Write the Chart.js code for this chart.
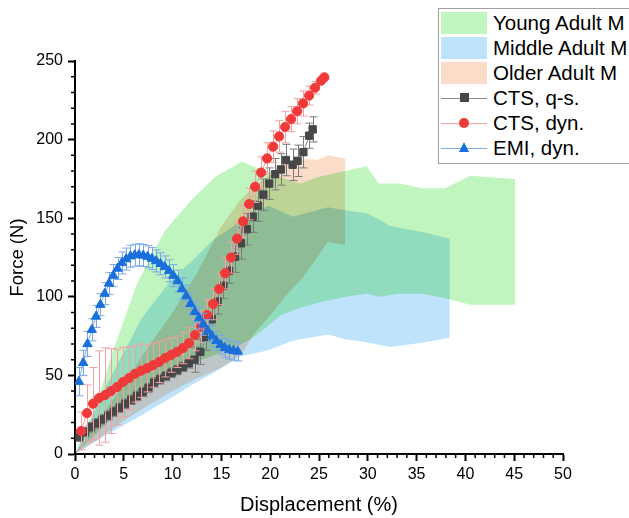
<!DOCTYPE html>
<html>
<head>
<meta charset="utf-8">
<script src="https://cdn.jsdelivr.net/npm/chart.js@4.4.1/dist/chart.umd.min.js"></script>
<style>
  body { margin: 0; background: #fff; overflow: hidden; font-family: "Liberation Sans", Arial, sans-serif; }
  #wrap { position: relative; width: 629px; height: 518px; overflow: hidden; }
  #legend { position: absolute; left: 438px; top: 8px; width: 200px; height: 154px; border: 1.5px solid #a0a0a0; background: #fff; }
  .sw { position: absolute; left: 2px; width: 46px; height: 22px; }
  .lbl { position: absolute; left: 54px; height: 25px; line-height: 25px; font-size: 20.5px; color: #000; white-space: nowrap; }
  .ln { position: absolute; left: 2px; width: 46px; height: 0; border-top: 1px solid; }
  .mk { position: absolute; }
</style>
</head>
<body>
<div id="wrap">
  <canvas id="force_chart" width="629" height="518"></canvas>
  <div id="legend">
    <div class="sw" style="top:2.5px;background:#c1f5c0"></div>
    <div class="lbl" style="top:1px">Young Adult M</div>
    <div class="sw" style="top:27.5px;background:#c0e3fc"></div>
    <div class="lbl" style="top:26px">Middle Adult M</div>
    <div class="sw" style="top:52.5px;background:#fadcc8"></div>
    <div class="lbl" style="top:51px">Older Adult M</div>

    <div class="ln" style="top:88.5px;border-color:#8a8a8a"></div>
    <div class="mk" style="left:20.5px;top:84px;width:9px;height:9px;background:#474747"></div>
    <div class="lbl" style="top:76px">CTS, q-s.</div>

    <div class="ln" style="top:113.5px;border-color:#f4a0a0"></div>
    <div class="mk" style="left:20px;top:109px;width:10px;height:10px;border-radius:50%;background:#f03a3a"></div>
    <div class="lbl" style="top:101px">CTS, dyn.</div>

    <div class="ln" style="top:138.5px;border-color:#80b0f0"></div>
    <div class="mk" style="left:19.5px;top:133px;width:0;height:0;border-left:5.5px solid transparent;border-right:5.5px solid transparent;border-bottom:10px solid #1a6fdc"></div>
    <div class="lbl" style="top:126px">EMI, dyn.</div>
  </div>
</div>
<script>
const FONT = '"Liberation Sans", Arial, sans-serif';

// corridors (shaded bands): displacement %, upper and lower force N
const youngX  = [0, 2.0, 3.9, 6.4, 9.2, 12.0, 14.3, 17.1, 18.2, 19.5, 21.0, 23.1, 24.8, 27.7, 29.9, 31.1, 33.3, 35.6, 37.9, 40.5, 45.1];
const youngHi = [0, 28, 66, 109, 142, 162, 176, 186, 183, 180, 176, 172, 176, 180, 183, 172, 172, 169, 169, 177, 175];
const youngLo = [0, 12, 24, 39, 51, 58, 63, 70, 74, 80, 88, 93, 96, 100, 102, 100, 102, 102, 99, 95, 95];

const middleX  = [0, 2.9, 6.9, 9.9, 12.0, 14.3, 17.0, 19.8, 22.3, 25.9, 27.7, 30.0, 32.3, 35.7, 38.4];
const middleHi = [0, 40, 87, 111, 123, 137, 148, 158, 151, 157, 155, 153, 145, 141, 137];
const middleLo = [0, 11, 25, 36, 44, 52, 62, 66, 72, 76, 73, 71, 68, 71, 74];

const olderX  = [0, 2.5, 5, 7.5, 10, 12.5, 15, 17, 18.4, 20, 21.5, 22.7, 23.3, 24.8, 25.9, 27.7];
const olderHi = [0, 22, 45, 68, 90, 115, 145, 162, 170, 178, 186, 188, 188, 187, 190, 188];
const olderLo = [0, 10, 21, 31, 40, 48, 55, 63, 77, 88, 100, 108, 112, 125, 135, 133];

// CTS quasi-static
const qsX = [0.45, 1.04, 1.63, 2.22, 2.81, 3.4, 3.99, 4.58, 5.17, 5.76, 6.35, 6.94, 7.53, 8.12, 8.71, 9.3, 9.89, 10.48, 11.07, 11.66,
  12.25, 12.84, 13.43, 14.02, 14.61, 15.2, 15.79, 16.4, 17.0, 17.6, 18.2, 18.75, 19.3, 19.9, 20.5, 21.1, 21.6, 22.3, 22.8, 23.4, 24.0, 24.35];
const qsY = [11, 14, 17, 19.5, 22, 24.5, 27, 29.5, 32, 34.5, 37, 39.5, 42, 45.4, 47.5, 49.6, 51.7, 53.4, 55.5, 57.7,
  60, 65, 74, 85.7, 97, 107, 116.6, 125.5, 134, 143, 151, 158, 165, 172, 178, 181, 187, 184, 186.5, 192, 202.5, 206.5];
const qsErr = [3, 3, 3, 3, 3, 3, 3, 3, 3, 3, 3, 3, 3, 3, 3, 3, 3, 3, 3, 3,
  8, 8, 8, 8, 8, 8, 8, 10, 10, 10, 10, 10, 10, 10, 10, 10, 10, 10, 10, 10, 8, 8];

// CTS dynamic
const dynX = [0.62, 1.23, 1.85, 2.46, 3.08, 3.69, 4.31, 4.92, 5.54, 6.15, 6.77, 7.38, 8.0, 8.61, 9.23, 9.84, 10.46, 11.07, 11.69, 12.3, 12.92,
  13.53, 14.15, 14.76, 15.38, 15.99, 16.61, 17.22, 17.84, 18.45, 19.07, 19.68, 20.3, 20.91, 21.53, 22.14, 22.76, 23.37, 23.99, 24.6, 25.22, 25.55];
const dynY = [14.6, 26, 32, 35.6, 37.5, 40, 42.6, 45.8, 48.3, 51, 53, 54.5, 56.5, 58.5, 61, 63, 65, 67.4, 70.6, 75.7, 81,
  88.4, 95.4, 105, 115, 125, 137, 148, 159, 170, 179, 188, 195.5, 202, 208, 213, 218, 223, 228, 233, 237.5, 239.6];
const dynErr = [12, 18, 23, 30, 30, 27, 24, 22, 20, 18, 17, 15, 14, 13, 12, 11, 10, 10, 10, 10, 10,
  10, 10, 10, 10, 10, 10, 10, 10, 10, 10, 10, 10, 10, 10, 8, 8, 8, 6, 4, 0, 0];

// EMI dynamic
const emiX = [0.4, 0.84, 1.28, 1.72, 2.16, 2.6, 3.04, 3.48, 3.92, 4.36, 4.8, 5.24, 5.68, 6.12, 6.56, 7.0, 7.44, 7.88, 8.32,
  8.76, 9.2, 9.64, 10.08, 10.52, 10.96, 11.4, 11.84, 12.28, 12.72, 13.16, 13.6, 14.04, 14.48, 14.92, 15.36, 15.8, 16.24, 16.68];
const emiY = [46, 58, 70, 79, 87.5, 95, 102, 108.5, 113.5, 118, 121.5, 124, 125.8, 126.5, 126.7, 126.3, 125.5, 124.3, 122.8,
  121, 119, 116.5, 113.5, 110, 105, 100.5, 95.5, 90.5, 86.5, 82.5, 78.5, 75, 72, 69.5, 67.5, 66.3, 65.7, 65.2];
const emiErr = [9, 8, 8, 7, 7, 7, 7, 7, 7, 7, 7, 7, 7, 7, 7, 7, 7, 7, 7,
  7, 7, 7, 7, 7, 7, 7, 7, 7, 7, 7, 7, 7, 6, 6, 6, 6, 6, 6];

function pts(xs, ys){
	return xs.map((x, i) => ({x: x, y: ys[i]}));
}

function bandPair(xs, lo, hi, color, order){
	return [
		{ data: pts(xs, lo), band: true, showLine: true, borderWidth: 0, borderColor: 'rgba(0,0,0,0)', pointRadius: 0, fill: false, order: order },
		{ data: pts(xs, hi), band: true, showLine: true, borderWidth: 0, borderColor: 'rgba(0,0,0,0)', pointRadius: 0, fill: '-1', backgroundColor: color, order: order }
	];
}

function series(xs, ys, errs, style, radius, color, lineColor, errColor, order){
	return {
		data: pts(xs, ys),
		errors: errs,
		errorColor: errColor,
		showLine: true,
		borderColor: lineColor,
		borderWidth: 1,
		pointStyle: style,
		pointRadius: radius,
		pointBackgroundColor: color,
		pointBorderColor: color,
		pointBorderWidth: 1,
		fill: false,
		tension: 0,
		order: order
	};
}

// bands are multiplied onto each other like the original's transparent fills
const blendBands = {
	id: 'blendBands',
	beforeDatasetsDraw(chart){
		chart.ctx.globalCompositeOperation = 'multiply';
	},
	beforeDatasetDraw(chart, args){
		const ds = chart.data.datasets[args.index];
		if (ds.band) return;
		const ctx = chart.ctx;
		ctx.globalCompositeOperation = 'source-over';
		if (!ds.errors) return;
		const xs = chart.scales.x, ys = chart.scales.y;
		ctx.save();
		ctx.strokeStyle = ds.errorColor;
		ctx.lineWidth = 1;
		ds.data.forEach((p, i) => {
			const e = ds.errors[i];
			if (!e) return;
			const px = Math.round(xs.getPixelForValue(p.x)) + 0.5;
			const top = ys.getPixelForValue(p.y + e);
			const bot = ys.getPixelForValue(p.y - e);
			ctx.beginPath();
			ctx.moveTo(px, top); ctx.lineTo(px, bot);
			ctx.moveTo(px - 4, top); ctx.lineTo(px + 4, top);
			ctx.moveTo(px - 4, bot); ctx.lineTo(px + 4, bot);
			ctx.stroke();
		});
		ctx.restore();
	},
	afterDatasetsDraw(chart){
		chart.ctx.globalCompositeOperation = 'source-over';
	}
};

const minorTicks = {
	id: 'minorTicks',
	afterDraw(chart){
		const {ctx, chartArea} = chart;
		const x = chart.scales.x, y = chart.scales.y;
		ctx.save();
		ctx.strokeStyle = '#000';
		ctx.lineWidth = 1.5;
		ctx.beginPath();
		for (let v = 1; v < 50; v++){
			if (v % 5 === 0) continue;
			const px = x.getPixelForValue(v);
			ctx.moveTo(px, chartArea.bottom);
			ctx.lineTo(px, chartArea.bottom + 4);
		}
		for (let v = 10; v < 250; v += 10){
			if (v % 50 === 0) continue;
			const py = y.getPixelForValue(v);
			ctx.moveTo(chartArea.left, py);
			ctx.lineTo(chartArea.left - 4, py);
		}
		ctx.stroke();
		ctx.restore();
	}
};

const datasets = [].concat(
	bandPair(youngX, youngLo, youngHi, 'rgba(130,235,130,0.5)', 30),
	bandPair(middleX, middleLo, middleHi, 'rgba(130,200,250,0.5)', 20),
	bandPair(olderX, olderLo, olderHi, 'rgba(245,185,145,0.5)', 10),
	[
		series(qsX, qsY, qsErr, 'rect', 5.2, '#474747', '#8a8a8a', '#7a7a7a', 3),
		series(dynX, dynY, dynErr, 'circle', 4.6, '#f03a3a', '#f4a0a0', '#f2a0a0', 2),
		series(emiX, emiY, emiErr, 'triangle', 5.4, '#1a6fdc', '#80b0f0', '#78a8ea', 1)
	]
);

const chart = document.getElementById('force_chart').getContext('2d');

new Chart(chart, {
	type: 'scatter',
	data: { datasets: datasets },
	options: {
		responsive: false,
		animation: false,
		layout: { padding: { top: 61, right: 66, left: 0, bottom: 0 } },
		plugins: { legend: { display: false }, tooltip: { enabled: false } },
		scales: {
			x: {
				type: 'linear', min: 0, max: 50,
				ticks: { stepSize: 5, autoSkip: false, maxRotation: 0, color: '#000', padding: 4, font: { size: 16, family: FONT } },
				grid: { drawOnChartArea: false, tickLength: 7, tickWidth: 2, tickColor: '#000' },
				border: { color: '#000', width: 2 },
				title: { display: true, text: 'Displacement (%)', color: '#000', font: { size: 20, family: FONT }, padding: { top: 0, bottom: 1 } },
				afterFit(scale){ scale.height = 64; }
			},
			y: {
				type: 'linear', min: 0, max: 250,
				ticks: { stepSize: 50, color: '#000', padding: 5, font: { size: 16, family: FONT } },
				grid: { drawOnChartArea: false, tickLength: 7, tickWidth: 2, tickColor: '#000' },
				border: { color: '#000', width: 2 },
				title: { display: true, text: 'Force (N)', color: '#000', font: { size: 18.5, family: FONT }, padding: { top: 7, bottom: 0 } },
				afterFit(scale){ scale.width = 75; }
			}
		}
	},
	plugins: [blendBands, minorTicks]
});
</script>
</body>
</html>
